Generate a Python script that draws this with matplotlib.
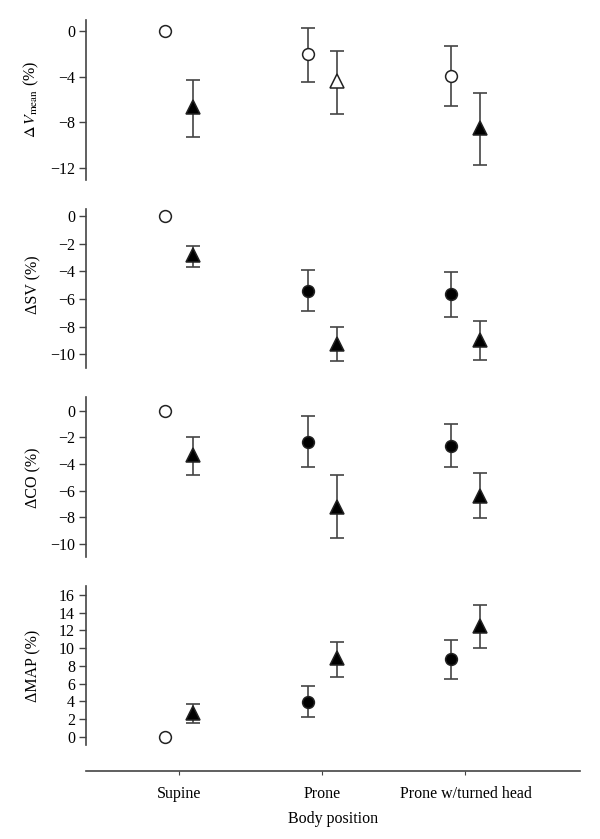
import matplotlib.pyplot as plt
import numpy as np

plt.rcParams['font.family'] = ['Liberation Serif', 'DejaVu Serif']
plt.rcParams['mathtext.fontset'] = 'stix'

positions = ['Supine', 'Prone', 'Prone w/turned head']

# circle series (first point of each panel is the 0 reference, no error bar)
vmean_c = [0, -2.0, -3.95]
vmean_c_hi = [0, 0.3, -1.3]
vmean_c_lo = [0, -4.5, -6.6]
vmean_t = [-6.7, -4.4, -8.55]
vmean_t_hi = [-4.3, -1.7, -5.45]
vmean_t_lo = [-9.35, -7.3, -11.8]

sv_c = [0, -5.4, -5.65]
sv_c_hi = [0, -3.9, -4.05]
sv_c_lo = [0, -6.9, -7.3]
sv_t = [-2.85, -9.25, -8.95]
sv_t_hi = [-2.15, -8.05, -7.6]
sv_t_lo = [-3.73, -10.5, -10.4]

co_c = [0, -2.33, -2.63]
co_c_hi = [0, -0.4, -1.0]
co_c_lo = [0, -4.2, -4.2]
co_t = [-3.35, -7.2, -6.4]
co_t_hi = [-1.98, -4.8, -4.65]
co_t_lo = [-4.84, -9.6, -8.05]

map_c = [0, 3.98, 8.76]
map_c_hi = [0, 5.75, 10.9]
map_c_lo = [0, 2.29, 6.57]
map_t = [2.74, 8.87, 12.5]
map_t_hi = [3.72, 10.75, 14.9]
map_t_lo = [1.62, 6.76, 10.0]

panels = [
    (r'$\Delta\,V_{\mathrm{mean}}$ (%)', vmean_c, vmean_c_hi, vmean_c_lo, vmean_t, vmean_t_hi, vmean_t_lo,
     ['o', 'o', 'o'], ['f', 'o', 'f'], [0, -4, -8, -12], (-13.1, 1.0)),
    ('ΔSV (%)', sv_c, sv_c_hi, sv_c_lo, sv_t, sv_t_hi, sv_t_lo,
     ['o', 'f', 'f'], ['f', 'f', 'f'], [0, -2, -4, -6, -8, -10], (-11.0, 0.5)),
    ('ΔCO (%)', co_c, co_c_hi, co_c_lo, co_t, co_t_hi, co_t_lo,
     ['o', 'f', 'f'], ['f', 'f', 'f'], [0, -2, -4, -6, -8, -10], (-11.0, 1.05)),
    ('ΔMAP (%)', map_c, map_c_hi, map_c_lo, map_t, map_t_hi, map_t_lo,
     ['o', 'f', 'f'], ['f', 'f', 'f'], [0, 2, 4, 6, 8, 10, 12, 14, 16], (-0.9, 17.0)),
]

W, H = 600, 839
fig = plt.figure(figsize=(6, 8.39), dpi=100)
left, right = 86 / W, 580 / W
boxes = [(20, 180), (209, 368), (397, 557), (586, 771)]
grey = '#444444'
x = np.arange(3)
off = 0.1

for i, (lab, c, chi, clo, t, thi, tlo, cfill, tfill, ticks, lim) in enumerate(panels):
    top, bot = boxes[i]
    ax = fig.add_axes([left, 1 - bot / H, right - left, (bot - top) / H])
    for s in ['top', 'right']:
        ax.spines[s].set_visible(False)
    ax.spines['left'].set_color(grey)
    ax.spines['left'].set_linewidth(1.2)
    lo, hi = lim
    if i == 3:
        # extend axes down to the shared x axis line
        ylo = lo - (771 - 745) / (745 - 586) * (hi - lo)
        ax.set_ylim(ylo, hi)
        ax.spines['left'].set_bounds(lo, hi)
        ax.spines['bottom'].set_color(grey)
        ax.spines['bottom'].set_linewidth(1.2)
        ax.set_xticks(x)
        ax.set_xticklabels(positions, fontsize=11.5)
        ax.tick_params(axis='x', length=3, color=grey, pad=8)
        ax.set_xlabel('Body position', fontsize=11.5, labelpad=6)
    else:
        ax.set_ylim(lo, hi)
        ax.spines['bottom'].set_visible(False)
        ax.set_xticks([])
    ax.set_xlim(-0.65, 2.80)
    ax.set_yticks(ticks)
    ax.set_yticklabels([str(v).replace('-', '\u2212') for v in ticks], fontsize=11.5)
    ax.tick_params(axis='y', length=5, width=1, color=grey, pad=3)
    ax.set_ylabel(lab, fontsize=11.5)
    y0, y1 = ax.get_ylim()
    ax.yaxis.set_label_coords(-0.091, (np.mean(ticks) - y0) / (y1 - y0))

    for j in range(3):
        # circles
        if j > 0 or c[j] != chi[j]:
            ax.errorbar(x[j] - off, c[j], yerr=[[c[j] - clo[j]], [chi[j] - c[j]]], fmt='none',
                        ecolor=grey, elinewidth=1.2, capsize=5, capthick=1.2, zorder=2)
        fc = 'white' if cfill[j] == 'o' else 'black'
        ax.plot(x[j] - off, c[j], 'o', ms=8.5, mfc=fc, mec='#222222', mew=1.1, zorder=3)
        # triangles
        ax.errorbar(x[j] + off, t[j], yerr=[[t[j] - tlo[j]], [thi[j] - t[j]]], fmt='none',
                    ecolor=grey, elinewidth=1.2, capsize=5, capthick=1.2, zorder=2)
        fc = 'white' if tfill[j] == 'o' else 'black'
        ax.plot(x[j] + off, t[j], '^', ms=9.5, mfc=fc, mec='#222222', mew=1.1, zorder=3)

fig.savefig('out.png', dpi=100)
